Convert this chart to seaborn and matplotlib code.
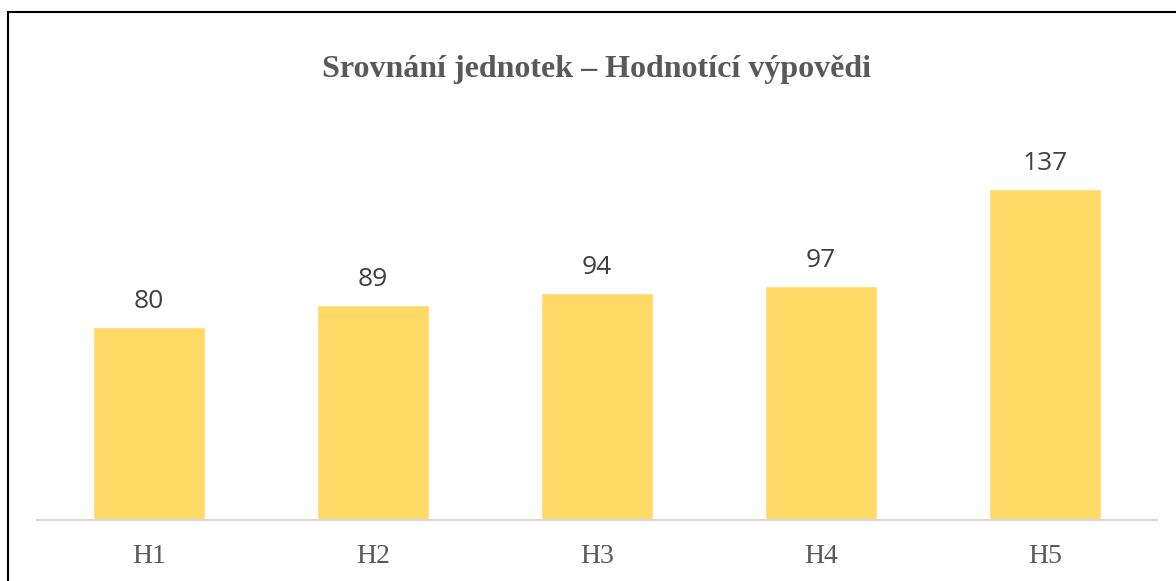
import matplotlib
matplotlib.use("Agg")
import matplotlib.pyplot as plt
from matplotlib.patches import Rectangle
import pandas as pd
import seaborn as sns

sns.set_theme(style="white")

# -- Chart data -- #
units = ["H1", "H2", "H3", "H4", "H5"]
counts = [80, 89, 94, 97, 137]
title_text = "Srovnání jednotek – Hodnotící výpovědi"

df = pd.DataFrame({"unit": units, "count": counts})

W, H = 1176, 581
fig = plt.figure(figsize=(W / 100, H / 100), dpi=100)

# axes placed in pixel terms: baseline at y=520, x from 37 to 1157
px_per_unit = 331 / 137
y_top = 160
ax_h = y_top * px_per_unit
ax = fig.add_axes([37 / W, (H - 520) / H, 1120 / W, ax_h / H])

sns.barplot(data=df, x="unit", y="count", color="#FFD966", saturation=1,
            width=0.5, ax=ax)

ax.set_ylim(0, y_top)
ax.set_xlim(-0.5, len(units) - 0.5)

for i, v in enumerate(counts):
    ax.annotate(str(v), (i, v), xytext=(0, 13.5), textcoords="offset points",
                ha="center", va="baseline", fontsize=19, color="#404040",
                family="Open Sans")

ax.set_xlabel("")
ax.set_ylabel("")
ax.set_yticks([])
ax.tick_params(axis="x", length=0, pad=17, labelsize=20, labelcolor="#595959")
for lbl in ax.get_xticklabels():
    lbl.set_family("Liberation Serif")

for s in ["top", "right", "left"]:
    ax.spines[s].set_visible(False)
ax.spines["bottom"].set_color("#D9D9D9")
ax.spines["bottom"].set_linewidth(1.5)

fig.text(597 / W, 1 - 70 / H, title_text, ha="center", va="center",
         fontsize=23, fontweight="bold", color="#595959",
         family="Liberation Serif")

# outer frame (right and bottom edges fall outside the image)
fig.patches.append(Rectangle((7.5 / W, -0.1), 1.2, (H - 11.5) / H + 0.1,
                             transform=fig.transFigure, fill=False,
                             edgecolor="black", linewidth=1.5))

fig.savefig("out.png", dpi=100)
